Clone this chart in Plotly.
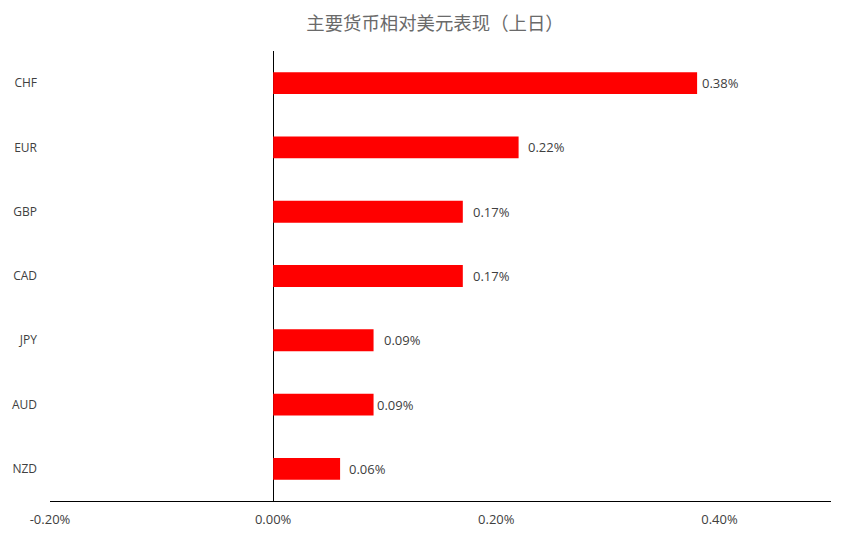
import plotly.graph_objects as go

# values in percent
currencies = ['CHF', 'EUR', 'GBP', 'CAD', 'JPY', 'AUD', 'NZD']
change_pct = [0.38, 0.22, 0.17, 0.17, 0.09, 0.09, 0.06]
labels = ['0.38%', '0.22%', '0.17%', '0.17%', '0.09%', '0.09%', '0.06%']

tick_vals = [-0.2, 0.0, 0.2, 0.4]
tick_text = ['-0.20%', '0.00%', '0.20%', '0.40%']

# gap between bar end and its label (px), as it came out of the spreadsheet
label_gap = [3, 7, 8, 8, 8, 1, 7]

text_col = '#404040'

fig = go.Figure()
fig.add_trace(go.Bar(
    x=change_pct, y=currencies, orientation='h',
    marker=dict(color='#ff0000', line=dict(width=0)),
    width=0.34, hoverinfo='x+y',
))

for cur, v, lab, gap in zip(currencies, change_pct, labels, label_gap):
    fig.add_annotation(x=v, y=cur, text=lab, showarrow=False,
                       xanchor='left', xshift=gap,
                       font=dict(size=13, color=text_col))

# page body adds 8px margin, so margins are trimmed to compensate
fig.update_layout(
    title=dict(text='主要货币相对美元表现（上日）', x=0.4942, xanchor='center',
               y=0.971, yanchor='middle',
               font=dict(family='Noto Sans CJK SC', size=18.4, color='#6a6a6a')),
    width=864, height=538,
    margin=dict(l=42, r=41, t=43, b=45),
    paper_bgcolor='white', plot_bgcolor='white',
    font=dict(family='Open Sans', size=12, color=text_col),
    showlegend=False,
)
fig.update_xaxes(range=[-0.2, 0.5], tickvals=tick_vals, ticktext=tick_text,
                 showgrid=False, zeroline=True, zerolinecolor='black',
                 zerolinewidth=1, showline=True, linecolor='black',
                 linewidth=1, ticks='', ticklabelstandoff=6,
                 tickfont=dict(size=13), automargin=False)
fig.update_yaxes(autorange='reversed', showgrid=False, zeroline=False,
                 showline=False, ticks='', ticklabelstandoff=12,
                 automargin=False)

fig.write_html('out.html')
